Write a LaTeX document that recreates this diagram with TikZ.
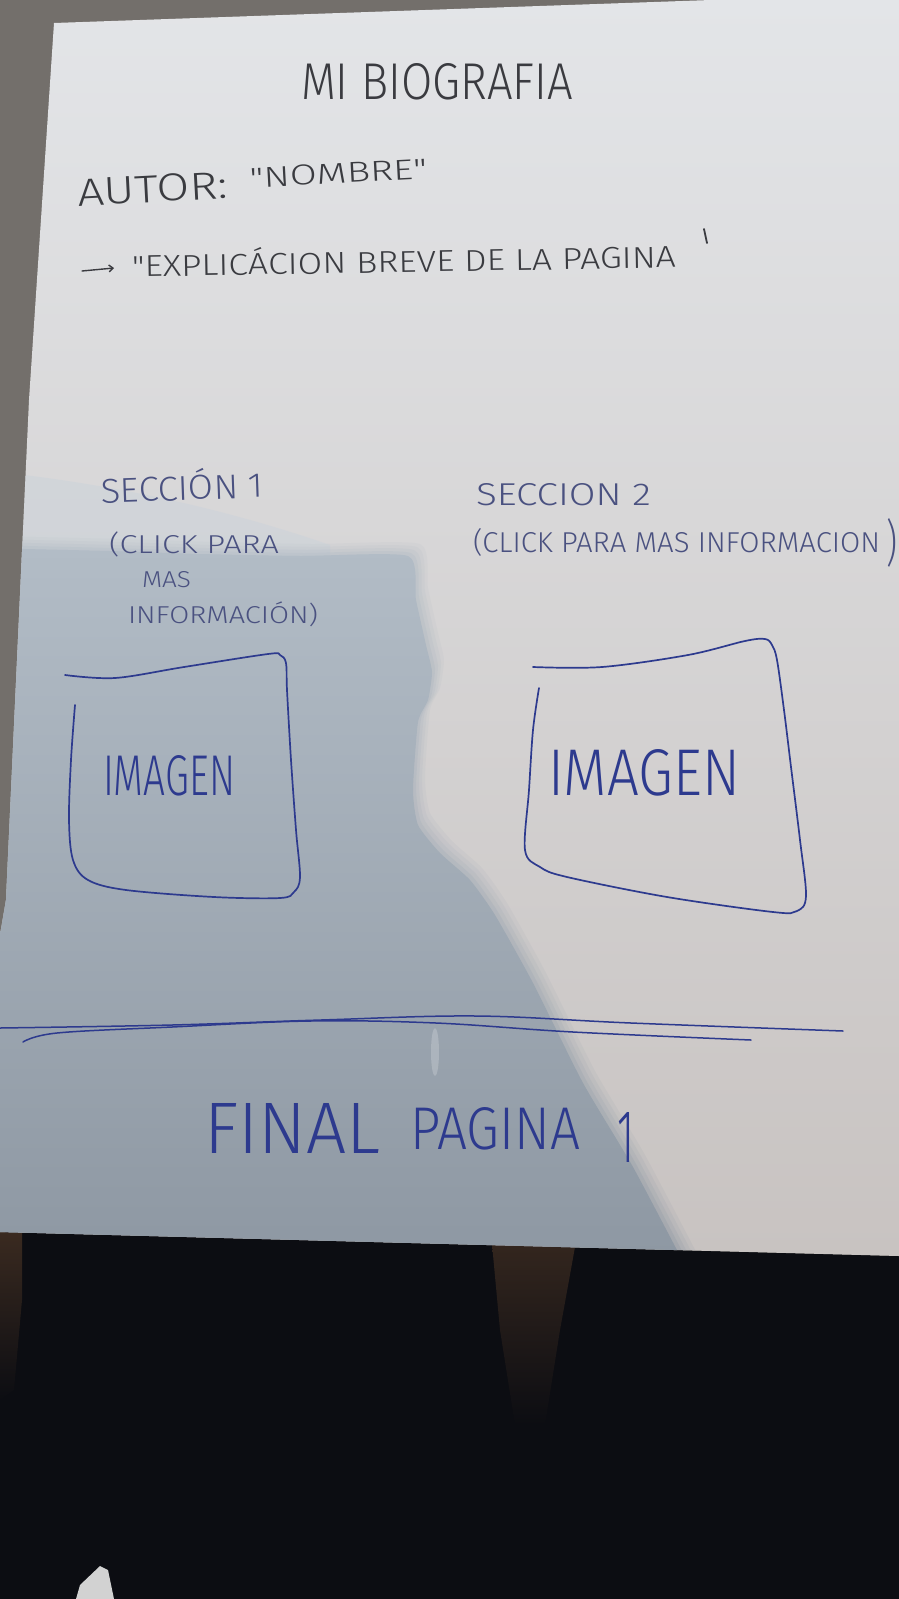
\documentclass[tikz,border=0pt]{standalone}
\usepackage{fontspec}
\usepackage{graphicx}
\usetikzlibrary{arrows.meta}
\IfFontExistsTF{Fira Sans Light}{\newfontfamily\hand{Fira Sans Light}}{\newfontfamily\hand{Fira Sans}}
% handwritten word: width, cap height, text
\newcommand{\hw}[3]{\resizebox{#1pt}{#2pt}{\hand #3}}

\definecolor{bgdesk}{HTML}{736F6B}
\definecolor{bgdark}{HTML}{0C0D12}
\definecolor{paperTop}{HTML}{E3E5E8}
\definecolor{paperMid}{HTML}{E4E4E5}
\definecolor{paperBot}{HTML}{C8C3C1}
\definecolor{shTop}{HTML}{B2BCC6}
\definecolor{shBot}{HTML}{8D97A2}
\definecolor{haze}{HTML}{C9D2DB}
\definecolor{inkdark}{HTML}{3A3B40}
\definecolor{inkgray}{HTML}{4A5180}
\definecolor{navy}{HTML}{2D3A8E}
\definecolor{brownish}{HTML}{3A2A20}

% outline of the hand's shadow
\def\shadowedge{plot[smooth,tension=0.35] coordinates {(-20,548) (110,551) (200,554) (300,556) (408,556) (416,600)
      (426,645) (432,672) (428,700) (418,722) (413,790) (418,825) (440,853) (470,880) (495,915) (533,983)
      (583,1083) (633,1167) (690,1275)} -- (-20,1275) -- cycle}

\begin{document}
\begin{tikzpicture}[x=1pt,y=-1pt,line cap=round,line join=round,
  hand/.style={inner sep=0pt,outer sep=0pt,anchor=base west},
  penline/.style={draw=navy,line width=1.7pt},
  pencil/.style={draw=inkdark,line width=1.6pt}]
\useasboundingbox (0,0) rectangle (899,1599);

% desk around the sheet
\fill[bgdesk] (0,0) rectangle (899,1599);
\fill[bgdark] (0,1232) -- (899,1256) -- (899,1599) -- (0,1599) -- cycle;
\shade[top color=brownish,bottom color=bgdark] (0,1232) -- (22,1233) -- (22,1300) -- (14,1390) -- (0,1400) -- cycle;
\shade[top color=brownish!85!bgdark,bottom color=bgdark] (492,1244) -- (575,1247) -- (560,1330) -- (545,1425)
  -- (515,1425) -- (500,1330) -- cycle;
\fill[gray!35] (80,1585) -- (100,1566) -- (108,1570) -- (114,1599) -- (76,1599) -- cycle;

% the sheet of paper
\def\sheet{(54,23) -- (711,0) -- (899,0) -- (899,1256) -- (0,1232) -- (0,935) -- (6,900) -- (29,400) -- cycle}
\shade[top color=paperTop,middle color=paperMid,bottom color=paperBot] \sheet;

% cast shadow over the lower left part of the sheet, with a soft rim
\begin{scope}
  \clip \sheet;
  \fill[haze,opacity=0.45] (-20,470) .. controls (80,480) and (200,500) .. (330,545) -- (330,560) -- (-20,560) -- cycle;
  \foreach \d/\o in {12/0.12,9/0.15,6/0.2,3/0.3}
    \shade[top color=shTop,bottom color=shBot,opacity=\o,shift={(\d,-\d)}] \shadowedge;
  \shade[top color=shTop,bottom color=shBot] \shadowedge;
  \fill[white,opacity=0.2] (435,1052) ellipse (4 and 24);
\end{scope}

% heading and author
\node[hand,text=inkdark] (title) at (301,99) {\hw{272}{36}{MI BIOGRAFIA}};
\node[hand,text=inkdark,rotate=3] (autor) at (78,206) {\hw{150}{27}{AUTOR:}};
\node[hand,text=inkdark,rotate=3] (nombre) at (250,188) {\hw{178}{20}{"NOMBRE"}};

% short description with its arrow
\node[hand,text=inkdark,rotate=1] (expl) at (132,277) {\hw{544}{21}{"EXPLIC\smash{Á}CION BREVE DE LA PAGINA}};
\coordinate (arrtail) at (82,271);
\coordinate (arrtip) at (114,268);
\draw[pencil,line width=1.4pt,-{Straight Barb[length=4pt,width=7pt]}] (arrtail) -- (arrtip);
\coordinate (qa) at (704,229);
\coordinate (qb) at (707,243);
\draw[pencil,line width=1.8pt] (qa) -- (qb);

% section 1
\node[hand,text=inkgray,rotate=2] (s1) at (101,503) {\hw{163}{24}{SECCI\smash{Ó}N 1}};
\node[hand,text=inkgray] (s1a) at (109,553) {\hw{170}{18}{\smash{(}CLICK PARA}};
\node[hand,text=inkgray] (s1b) at (142,587) {\hw{49}{16}{MAS}};
\node[hand,text=inkgray] (s1c) at (128,623) {\hw{190}{17}{INFORMACI\smash{Ó}N\smash{)}}};

% section 2
\node[hand,text=inkgray] (s2) at (476,505) {\hw{175}{22}{SECCION 2}};
\node[hand,text=inkgray] (s2a) at (473,552) {\hw{407}{20}{\smash{(}CLICK PARA MAS INFORMACION}};
\node[hand,text=inkgray] (s2p) at (886,560) {\hw{11}{42}{)}};

% image placeholders
\draw[penline] plot[smooth,tension=0.55] coordinates {(75,705) (71,760) (69,820) (73,860) (88,880) (126,890)
  (214,897) (280,898) (294,892) (300,877) (296,830) (291,760) (287,690) (286,663) (280,655) (268,654)
  (184,667) (115,678) (65,675)};
\node[hand,text=navy] (img1) at (103,795) {\hw{132}{40}{IMAGEN}};

\draw[penline] plot[smooth,tension=0.55] coordinates {(539,688) (533,730) (529,790) (525,850) (540,867)
  (567,877) (667,897) (773,912) (797,911) (806,896) (800,840) (791,767) (784,710) (777,660) (772,645)
  (765,639) (745,641) (688,655) (602,667) (533,667)};
\node[hand,text=navy] (img2) at (548,795) {\hw{192}{46}{IMAGEN}};

% page divider
\draw[penline,line width=1.5pt] plot[smooth,tension=0.6] coordinates {(0,1028) (172,1025) (321,1020) (476,1016)
  (631,1023) (843,1031)};
\draw[penline,line width=1.5pt] plot[smooth,tension=0.6] coordinates {(23,1042) (57,1033) (172,1027) (310,1021)
  (436,1023) (573,1032) (751,1040)};

% footer
\node[hand,text=navy] (fin) at (204,1153) {\hw{176}{50}{FINAL}};
\node[hand,text=navy] (pag) at (410,1149) {\hw{170}{42}{PAGINA}};
\node[hand,text=navy] (num) at (617,1162) {\hw{17}{50}{1}};
\end{tikzpicture}
\end{document}
